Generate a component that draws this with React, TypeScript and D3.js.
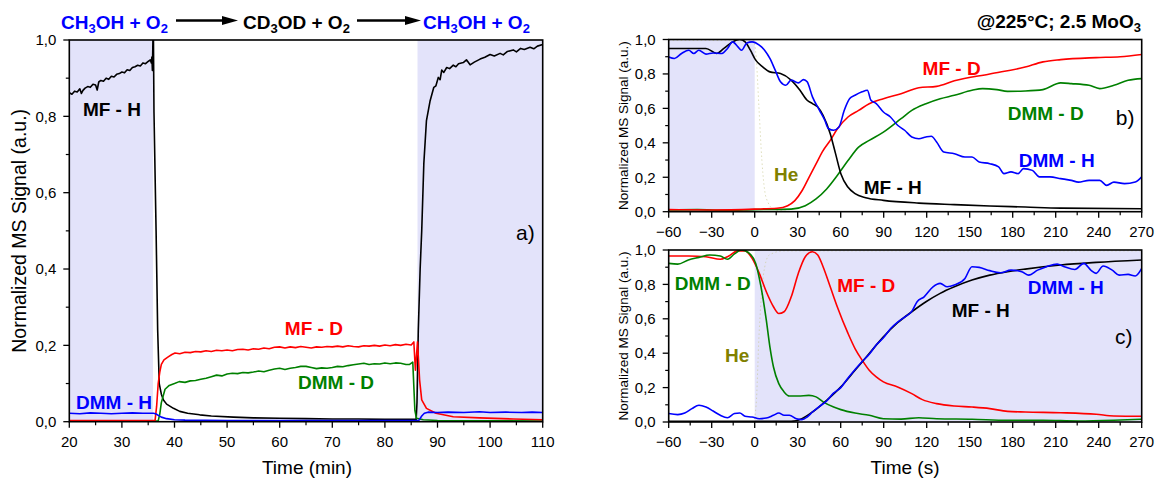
import React from "react";
import * as d3 from "d3";

// ---------- Panel a (time in min) ----------
const aXTicks = [20, 30, 40, 50, 60, 70, 80, 90, 100, 110];
const aBand1 = [20, 35.9];
const aBand2 = [86.2, 110];
const aMFH: [number, number][] = [
  [20, 0.862], [20.5, 0.858], [21, 0.866], [21.5, 0.864], [22, 0.872], [22.3, 0.86], [22.6, 0.868], [23, 0.874],
  [23.5, 0.878], [24, 0.876], [24.5, 0.884], [25, 0.882], [25.3, 0.869], [25.6, 0.89], [26, 0.894], [26.5, 0.892],
  [27, 0.9], [27.5, 0.897], [28, 0.905], [28.5, 0.903], [29, 0.91], [29.5, 0.912], [30, 0.916], [30.5, 0.914],
  [31, 0.922], [31.5, 0.92], [32, 0.928], [32.5, 0.93], [33, 0.934], [33.5, 0.932], [34, 0.94], [34.5, 0.938],
  [35, 0.944], [35.4, 0.948], [35.6, 0.94], [35.7, 0.955], [35.8, 0.92], [35.9, 1.0], [36.0, 1.0], [36.1, 0.81],
  [36.5, 0.5], [36.8, 0.24], [37.1, 0.1], [37.5, 0.072], [37.9, 0.057], [38.5, 0.046], [39.8, 0.035], [41, 0.027],
  [42.5, 0.022], [44.8, 0.018], [47, 0.015], [51.2, 0.012], [55, 0.01], [60, 0.009], [65, 0.008], [70, 0.007],
  [75, 0.007], [80, 0.006], [85, 0.006], [85.95, 0.006], [86.1, 0.05], [86.35, 0.24], [86.7, 0.4], [87.0, 0.5],
  [87.4, 0.676], [87.9, 0.789], [88.6, 0.841], [89.3, 0.876], [89.7, 0.88], [90.15, 0.902], [90.5, 0.896],
  [90.8, 0.921], [91.2, 0.915], [91.75, 0.928], [92.3, 0.925], [93, 0.934], [93.5, 0.93], [94, 0.938],
  [94.9, 0.941], [95.5, 0.948], [96.2, 0.935], [97, 0.942], [98.1, 0.95], [99, 0.955], [100, 0.962],
  [100.8, 0.958], [101.9, 0.965], [102.5, 0.961], [103.3, 0.97], [104.4, 0.974], [105, 0.969], [105.8, 0.978],
  [106.5, 0.975], [107.6, 0.981], [108.3, 0.977], [109, 0.984], [110, 0.988],
];
const aMFD: [number, number][] = [
  [20, 0.003], [36.3, 0.003], [36.6, 0.04], [36.9, 0.1], [37.2, 0.13], [37.5, 0.15], [38, 0.162], [38.8, 0.17],
  [39.5, 0.176], [40.1, 0.18], [41, 0.178], [42, 0.182], [43, 0.181], [44, 0.184], [45, 0.183], [46, 0.186],
  [47, 0.184], [48, 0.187], [49, 0.186], [50, 0.188], [51, 0.186], [52, 0.189], [53, 0.19], [54, 0.188],
  [55, 0.191], [56, 0.19], [57, 0.193], [58, 0.191], [59, 0.195], [60, 0.196], [61, 0.193], [62, 0.196],
  [63, 0.194], [64, 0.197], [65, 0.195], [66, 0.193], [67, 0.196], [68, 0.195], [69, 0.197], [70, 0.196],
  [71, 0.198], [72, 0.196], [73, 0.199], [74, 0.197], [75, 0.196], [76, 0.199], [77, 0.198], [78, 0.2],
  [79, 0.198], [80, 0.201], [81, 0.199], [82, 0.202], [83, 0.2], [84, 0.203], [85, 0.201], [85.5, 0.209],
  [85.8, 0.135], [86.2, 0.209], [86.6, 0.109], [87, 0.057], [87.9, 0.035], [89.7, 0.022], [93, 0.013],
  [98, 0.01], [104.4, 0.007], [110, 0.005],
];
const aDMMD: [number, number][] = [
  [20, 0.002], [36.9, 0.002], [37.2, 0.02], [37.5, 0.05], [38.2, 0.085], [39, 0.095], [40, 0.1], [40.9, 0.105],
  [42, 0.103], [43, 0.107], [44, 0.108], [45, 0.111], [46, 0.114], [47, 0.118], [48, 0.122], [49, 0.12],
  [50, 0.125], [51, 0.127], [52, 0.126], [53, 0.129], [54, 0.128], [55, 0.13], [56, 0.133], [57, 0.131],
  [58, 0.135], [59, 0.138], [60, 0.14], [61, 0.137], [62, 0.14], [63, 0.142], [64, 0.145], [65, 0.145],
  [66, 0.142], [67, 0.139], [68, 0.141], [69, 0.14], [70, 0.142], [71, 0.145], [72, 0.144], [73, 0.147],
  [74, 0.149], [75, 0.151], [76, 0.153], [77, 0.15], [78, 0.152], [79, 0.151], [80, 0.154], [81, 0.152],
  [82, 0.154], [83, 0.153], [84, 0.15], [84.7, 0.15], [85.3, 0.156], [85.7, 0.03], [86, 0.009], [87.3, 0.005],
  [90, 0.003], [110, 0.002],
];
const aDMMH: [number, number][] = [
  [20, 0.022], [22, 0.021], [24, 0.023], [26, 0.022], [28, 0.021], [30, 0.022], [32, 0.023], [34, 0.022],
  [36, 0.022], [36.5, 0.02], [37, 0.016], [37.5, 0.012], [38.5, 0.008], [40, 0.005], [42, 0.004], [50, 0.003],
  [86, 0.003], [86.5, 0.004], [87, 0.015], [87.5, 0.022], [88.2, 0.025], [90, 0.024], [92, 0.025], [95, 0.024],
  [98, 0.026], [100, 0.024], [103, 0.025], [106, 0.024], [108, 0.025], [110, 0.024],
];

// ---------- Panels b and c (time in s) ----------
const sXTicks = [-60, -30, 0, 30, 60, 90, 120, 150, 180, 210, 240, 270];
const yTicks = [0, 0.2, 0.4, 0.6, 0.8, 1.0];
const bBand = [-60, 0];
const cBand = [0, 270];

const bMFH: [number, number][] = [
  [-60, 0.948], [-34, 0.948], [-26.5, 0.919], [-21.5, 0.948], [-15.4, 0.986], [-10.4, 1.0], [-6.7, 0.986],
  [-3, 0.938], [0.7, 0.88], [5.6, 0.841], [10.6, 0.812], [18, 0.802], [25.4, 0.764], [31.6, 0.705],
  [36.6, 0.647], [40.3, 0.628], [44, 0.608], [47.7, 0.56], [52.7, 0.453], [56.4, 0.337], [60.1, 0.221],
  [65, 0.143], [70, 0.105], [77.4, 0.081], [89.8, 0.066], [114.5, 0.05], [139.3, 0.041], [164, 0.033],
  [188.8, 0.027], [213.5, 0.021], [270, 0.017],
];
const bDMMH: [number, number][] = [
  [-60, 0.899], [-56, 0.89], [-51, 0.919], [-46, 0.938], [-42.5, 0.919], [-39, 0.938], [-34, 0.915],
  [-29, 0.922], [-22.8, 0.919], [-19, 0.948], [-15.4, 0.986], [-11.7, 0.957], [-9.2, 0.938], [-5.5, 0.98],
  [-1.8, 0.986], [3.2, 0.967], [6.9, 0.938], [10.6, 0.89], [14.3, 0.822], [18, 0.754], [21.7, 0.734],
  [25.4, 0.764], [30.4, 0.748], [34.1, 0.767], [36.6, 0.754], [40.3, 0.667], [45.2, 0.589], [48.9, 0.531],
  [51.4, 0.483], [55.1, 0.473], [58.8, 0.492], [62.5, 0.589], [66.3, 0.657], [70, 0.676], [74.9, 0.696],
  [78.6, 0.705], [81.1, 0.647], [84.8, 0.628], [89.8, 0.579], [94.7, 0.55], [99.7, 0.502], [104.6, 0.473],
  [109.6, 0.434], [114.5, 0.424], [119.5, 0.434], [123.2, 0.438], [126.9, 0.405], [131.9, 0.347],
  [139.3, 0.337], [146.7, 0.318], [151.6, 0.318], [156.6, 0.289], [164, 0.279], [170.2, 0.26], [173.9, 0.221],
  [178.8, 0.231], [183.8, 0.221], [187.5, 0.25], [193.7, 0.24], [198.6, 0.202], [206, 0.202], [213.5, 0.192],
  [220.9, 0.182], [225.8, 0.172], [233.3, 0.182], [240.7, 0.182], [245.6, 0.153], [250.6, 0.172],
  [258, 0.163], [265.5, 0.172], [270, 0.202],
];
const bMFD: [number, number][] = [
  [-60, 0.012], [-30, 0.01], [0, 0.015], [15.6, 0.02], [23, 0.035], [28, 0.064], [32.9, 0.12], [37.9, 0.2],
  [42.8, 0.278], [47.7, 0.355], [52.7, 0.414], [57.6, 0.48], [65.1, 0.55], [72.5, 0.588], [79.9, 0.627],
  [89.8, 0.656], [102.1, 0.685], [114.5, 0.72], [126.9, 0.728], [139.3, 0.76], [164, 0.8], [188.7, 0.84],
  [201.1, 0.87], [213.5, 0.883], [238.2, 0.895], [255, 0.9], [270, 0.913],
];
const bDMMD: [number, number][] = [
  [-60, 0.01], [-40, 0.012], [-20, 0.008], [0, 0.012], [25.4, 0.015], [35.3, 0.035], [42.8, 0.074],
  [50.2, 0.132], [57.6, 0.21], [65.1, 0.297], [72.5, 0.375], [79.9, 0.414], [89.8, 0.462], [102.1, 0.54],
  [109.6, 0.588], [119.5, 0.627], [129.4, 0.656], [139.3, 0.676], [151.6, 0.705], [159, 0.715], [168.9, 0.709],
  [176.4, 0.699], [188.7, 0.701], [201.1, 0.709], [213.5, 0.748], [220.9, 0.744], [233.3, 0.734],
  [240.7, 0.715], [250.6, 0.734], [260.5, 0.763], [270, 0.773],
];
const bHe: [number, number][] = [
  [-60, 0.995], [-1, 0.995], [1, 0.9], [3, 0.6], [5, 0.3], [8, 0.08], [14, 0.01], [30, 0],
];

const cMFD: [number, number][] = [
  [-60, 0.965], [-46, 0.965], [-34, 0.961], [-24, 0.946], [-19, 0.961], [-11.7, 0.995], [-6.7, 0.995],
  [-1.8, 0.951], [3.2, 0.864], [8.1, 0.757], [13.1, 0.67], [16.8, 0.631], [20.5, 0.641], [25.5, 0.728],
  [30.4, 0.864], [35.3, 0.961], [40.3, 0.99], [44, 0.971], [47.7, 0.903], [52.7, 0.786], [57.6, 0.67],
  [65.1, 0.515], [70, 0.427], [75, 0.359], [79.9, 0.301], [84.8, 0.262], [89.8, 0.233], [99.7, 0.204],
  [109.6, 0.165], [117, 0.13], [126.9, 0.107], [139.3, 0.093], [151.6, 0.087], [164, 0.078], [176.4, 0.062],
  [188.7, 0.058], [213.5, 0.054], [238.2, 0.045], [250.6, 0.035], [270, 0.033],
];
const cDMMD: [number, number][] = [
  [-60, 0.922], [-53.7, 0.918], [-46.3, 0.942], [-38.9, 0.957], [-31.4, 0.971], [-24, 0.965], [-19, 0.946],
  [-14.1, 0.977], [-9.2, 1.0], [-4.2, 0.984], [0.7, 0.922], [4.4, 0.786], [8.1, 0.592], [10.6, 0.437],
  [13.1, 0.32], [16.8, 0.223], [20.5, 0.175], [24.2, 0.151], [30.4, 0.151], [37.8, 0.155], [42.8, 0.146],
  [47.7, 0.117], [55.1, 0.087], [60.1, 0.072], [70, 0.052], [79.9, 0.039], [89.8, 0.019], [102.1, 0.017],
  [114.5, 0.025], [126.9, 0.019], [151.6, 0.016], [176.4, 0.01], [201.1, 0.01], [225.8, 0.006],
  [250.6, 0.01], [270, 0.016],
];
const cMFH: [number, number][] = [
  [-60, 0.004], [0, 0.004], [25.4, 0.004], [32.9, 0.019], [40.3, 0.058], [50.2, 0.126], [60.1, 0.204],
  [70, 0.301], [79.9, 0.398], [89.8, 0.495], [99.7, 0.577], [109.6, 0.641], [119.5, 0.699], [129.4, 0.748],
  [139.3, 0.786], [151.6, 0.825], [164, 0.854], [176.4, 0.874], [188.7, 0.889], [213.5, 0.913],
  [238.2, 0.928], [270, 0.942],
];
const cDMMH: [number, number][] = [
  [-60, 0.049], [-53.7, 0.043], [-48.8, 0.052], [-43.8, 0.078], [-38.9, 0.097], [-34, 0.087], [-29, 0.064],
  [-24, 0.039], [-19, 0.025], [-14.1, 0.049], [-10.4, 0.052], [-6.7, 0.033], [-1.8, 0.029], [3.2, 0.019],
  [8.1, 0.023], [13.1, 0.039], [16.8, 0.052], [20.5, 0.039], [24.2, 0.039], [29.1, 0.019], [32.9, 0.014],
  [36.6, 0.029], [40.3, 0.058], [45, 0.09], [50.2, 0.122], [55, 0.168], [60.1, 0.2], [65, 0.255], [70, 0.305],
  [75, 0.352], [79.9, 0.394], [85, 0.45], [89.8, 0.49], [95, 0.545], [99.7, 0.58], [104.6, 0.61],
  [109.6, 0.643], [113.3, 0.699], [118.2, 0.728], [124.4, 0.786], [129.4, 0.806], [134.3, 0.786],
  [139.3, 0.796], [146.7, 0.835], [151.6, 0.903], [156.6, 0.899], [164, 0.88], [171.4, 0.868],
  [178.8, 0.883], [186.3, 0.874], [191.2, 0.854], [197.4, 0.883], [203.6, 0.903], [211, 0.918], [216, 0.903],
  [223.4, 0.887], [229.6, 0.922], [234.5, 0.883], [238.2, 0.864], [243.1, 0.907], [249.4, 0.883],
  [254.3, 0.854], [260.5, 0.858], [265.5, 0.849], [270, 0.893],
];
const cHe: [number, number][] = [
  [-60, 0], [-1, 0], [1, 0.1], [3, 0.5], [6, 0.85], [10, 0.97], [20, 0.995], [270, 0.995],
];

const BLACK = "#000000";
const RED = "#ff0000";
const GREEN = "#008000";
const BLUE = "#0000ff";
const OLIVE = "#808000";
const BAND = "#e3e3fa";
const FONT = "Arial, 'Liberation Sans', Helvetica, sans-serif";

type Series = { data: [number, number][]; color: string; dash?: string; width?: number; opacity?: number };
type Label = { text: string; x: number; y: number; color: string; bold?: boolean; size?: number };

const fmtY = (v: number) => d3.format(".1f")(v).replace(".", ",");
const fmtX = d3.format("d");

function Panel(props: {
  id: string;
  left: number; right: number; top: number; bottom: number;
  xDomain: [number, number];
  xTicks: number[];
  xMinorStep: number;
  bands: number[][];
  series: Series[];
  labels: Label[];
  smooth: boolean;
  yLabel: string;
  yLabelSize: number;
  yLabelX: number;
  xLabel?: string;
  xLabelX?: number;
  xLabelY?: number;
}) {
  const { left, right, top, bottom } = props;
  const x = d3.scaleLinear().domain(props.xDomain).range([left, right]);
  const y = d3.scaleLinear().domain([0, 1]).range([bottom, top]);
  const line = d3
    .line<[number, number]>()
    .x((d) => x(d[0]))
    .y((d) => y(d[1]))
    .curve(props.smooth ? d3.curveMonotoneX : d3.curveLinear);
  const minorX = d3.range(props.xDomain[0], props.xDomain[1] + 1e-9, props.xMinorStep).filter(
    (v) => !props.xTicks.some((t) => Math.abs(t - v) < 1e-6)
  );
  const minorY = [0.1, 0.3, 0.5, 0.7, 0.9];
  const clip = `clip-${props.id}`;
  return (
    <g>
      <defs>
        <clipPath id={clip}>
          <rect x={left} y={top} width={right - left} height={bottom - top} />
        </clipPath>
      </defs>
      {props.bands.map((b, i) => (
        <rect key={i} x={x(b[0])} y={top} width={x(b[1]) - x(b[0])} height={bottom - top} fill={BAND} />
      ))}
      <g clipPath={`url(#${clip})`}>
        {props.series.map((s, i) => (
          <path
            key={i}
            d={line(s.data) || ""}
            fill="none"
            stroke={s.color}
            strokeWidth={s.width ?? 1.6}
            strokeDasharray={s.dash}
            opacity={s.opacity ?? 1}
            strokeLinejoin="round"
          />
        ))}
      </g>
      <rect x={left} y={top} width={right - left} height={bottom - top} fill="none" stroke="#000" strokeWidth={1.6} />
      {props.xTicks.map((t) => (
        <g key={t}>
          <line x1={x(t)} x2={x(t)} y1={bottom} y2={bottom + 6} stroke="#000" strokeWidth={1.3} />
          <text x={x(t)} y={bottom + 20} dy="0.35em" textAnchor="middle" fontSize={15} fontFamily={FONT} fill="#000">
            {fmtX(t)}
          </text>
        </g>
      ))}
      {minorX.map((t) => (
        <line key={t} x1={x(t)} x2={x(t)} y1={bottom} y2={bottom + 3.5} stroke="#000" strokeWidth={1.2} />
      ))}
      {yTicks.map((t) => (
        <g key={t}>
          <line x1={left - 6} x2={left} y1={y(t)} y2={y(t)} stroke="#000" strokeWidth={1.3} />
          <text x={left - 13} y={y(t)} dy="0.35em" textAnchor="end" fontSize={15} fontFamily={FONT} fill="#000">
            {fmtY(t)}
          </text>
        </g>
      ))}
      {minorY.map((t) => (
        <line key={t} x1={left - 3.5} x2={left} y1={y(t)} y2={y(t)} stroke="#000" strokeWidth={1.2} />
      ))}
      <text
        transform={`translate(${props.yLabelX},${(top + bottom) / 2}) rotate(-90)`}
        dy="0.35em"
        textAnchor="middle"
        fontSize={props.yLabelSize}
        fontFamily={FONT}
        fill="#000"
      >
        {props.yLabel}
      </text>
      {props.xLabel && (
        <text x={props.xLabelX} y={props.xLabelY} dy="0.35em" textAnchor="middle" fontSize={19} fontFamily={FONT} fill="#000">
          {props.xLabel}
        </text>
      )}
      {props.labels.map((l, i) => (
        <text
          key={i}
          x={x(l.x)}
          y={y(l.y)}
          dy="0.35em"
          textAnchor="middle"
          fontSize={l.size ?? 19}
          fontWeight={l.bold === false ? "normal" : "bold"}
          fontFamily={FONT}
          fill={l.color}
        >
          {l.text}
        </text>
      ))}
    </g>
  );
}

function Formula(props: { x: number; y: number; parts: [string, boolean][]; color: string }) {
  let shifted = false;
  return (
    <text x={props.x} y={props.y} fontSize={19} fontWeight="bold" fontFamily={FONT} fill={props.color}>
      {props.parts.map(([t, sub], i) => {
        let dy = 0;
        if (sub && !shifted) { dy = 4; shifted = true; }
        else if (!sub && shifted) { dy = -4; shifted = false; }
        return (
          <tspan key={i} dy={dy} fontSize={sub ? 13 : 19}>
            {t}
          </tspan>
        );
      })}
    </text>
  );
}

function Arrow(props: { x1: number; x2: number; y: number }) {
  const { x1, x2, y } = props;
  return (
    <g>
      <line x1={x1} x2={x2 - 12} y1={y} y2={y} stroke="#000" strokeWidth={2.5} />
      <polygon points={`${x2 - 16},${y - 4.5} ${x2},${y} ${x2 - 16},${y + 4.5}`} fill="#000" />
    </g>
  );
}

export default function App() {
  return (
    <svg
      width={1156}
      height={480}
      viewBox="0 0 1156 480"
      style={{ position: "absolute", left: 0, top: 0, background: "#fff" }}
    >
      <rect width={1156} height={480} fill="#fff" />
      {/* Panel a */}
      <Panel
        id="a"
        left={69.3}
        right={542.7}
        top={40}
        bottom={421.7}
        xDomain={[20, 110]}
        xTicks={aXTicks}
        xMinorStep={5}
        bands={[aBand1, aBand2]}
        smooth={false}
        series={[
          { data: aMFH, color: BLACK },
          { data: aDMMD, color: GREEN },
          { data: aMFD, color: RED },
          { data: aDMMH, color: BLUE },
        ]}
        labels={[
          { text: "MF - H", x: 28.1, y: 0.818, color: BLACK },
          { text: "DMM - H", x: 28.5, y: 0.052, color: BLUE },
          { text: "MF - D", x: 66.5, y: 0.245, color: RED },
          { text: "DMM - D", x: 70.7, y: 0.104, color: GREEN },
          { text: "a)", x: 106.7, y: 0.496, color: BLACK, bold: false, size: 21 },
        ]}
        yLabel="Normalized MS Signal (a.u.)"
        yLabelSize={19.5}
        yLabelX={19}
        xLabel="Time (min)"
        xLabelX={307}
        xLabelY={467}
      />
      {/* Panel b */}
      <Panel
        id="b"
        left={668.7}
        right={1141.7}
        top={39.5}
        bottom={211.7}
        xDomain={[-60, 270]}
        xTicks={sXTicks}
        xMinorStep={15}
        bands={[bBand]}
        smooth={true}
        series={[
          { data: bHe, color: "#c8c890", dash: "1.5,2.5", width: 1, opacity: 0.6 },
          { data: bDMMD, color: GREEN },
          { data: bMFD, color: RED },
          { data: bMFH, color: BLACK },
          { data: bDMMH, color: BLUE },
        ]}
        labels={[
          { text: "MF - D", x: 137.4, y: 0.834, color: RED },
          { text: "DMM - D", x: 203, y: 0.573, color: GREEN },
          { text: "DMM - H", x: 210.7, y: 0.3, color: BLUE },
          { text: "MF - H", x: 96.3, y: 0.143, color: BLACK },
          { text: "He", x: 22, y: 0.219, color: OLIVE },
          { text: "b)", x: 258.5, y: 0.544, color: BLACK, bold: false, size: 21 },
        ]}
        yLabel="Normalized MS Signal (a.u.)"
        yLabelSize={13.5}
        yLabelX={623}
      />
      {/* Panel c */}
      <Panel
        id="c"
        left={668.7}
        right={1141.7}
        top={250}
        bottom={422}
        xDomain={[-60, 270]}
        xTicks={sXTicks}
        xMinorStep={15}
        bands={[cBand]}
        smooth={true}
        series={[
          { data: cHe, color: "#c8c890", dash: "1.5,2.5", width: 1, opacity: 0.6 },
          { data: cMFD, color: RED },
          { data: cDMMD, color: GREEN },
          { data: cMFH, color: BLACK },
          { data: cDMMH, color: BLUE },
        ]}
        labels={[
          { text: "DMM - D", x: -29.3, y: 0.808, color: GREEN },
          { text: "MF - D", x: 77.8, y: 0.797, color: RED },
          { text: "DMM - H", x: 217, y: 0.785, color: BLUE },
          { text: "MF - H", x: 157.7, y: 0.651, color: BLACK },
          { text: "He", x: -12.2, y: 0.39, color: OLIVE },
          { text: "c)", x: 257.5, y: 0.494, color: BLACK, bold: false, size: 21 },
        ]}
        yLabel="Normalized MS Signal (a.u.)"
        yLabelSize={13.5}
        yLabelX={623}
        xLabel="Time (s)"
        xLabelX={905}
        xLabelY={467}
      />
      {/* Title sequence for panel a */}
      <Formula x={61} y={29} color={BLUE} parts={[["CH", false], ["3", true], ["OH + O", false], ["2", true]]} />
      <Arrow x1={176} x2={238} y={20.5} />
      <Formula x={243} y={29} color={BLACK} parts={[["CD", false], ["3", true], ["OD + O", false], ["2", true]]} />
      <Arrow x1={357} x2={421} y={20.5} />
      <Formula x={423} y={29} color={BLUE} parts={[["CH", false], ["3", true], ["OH + O", false], ["2", true]]} />
      {/* Condition title */}
      <text x={1141} y={28} textAnchor="end" fontSize={19} fontWeight="bold" fontFamily={FONT} fill="#000">
        @225°C; 2.5 MoO
        <tspan dy={4} fontSize={13}>3</tspan>
      </text>
    </svg>
  );
}
